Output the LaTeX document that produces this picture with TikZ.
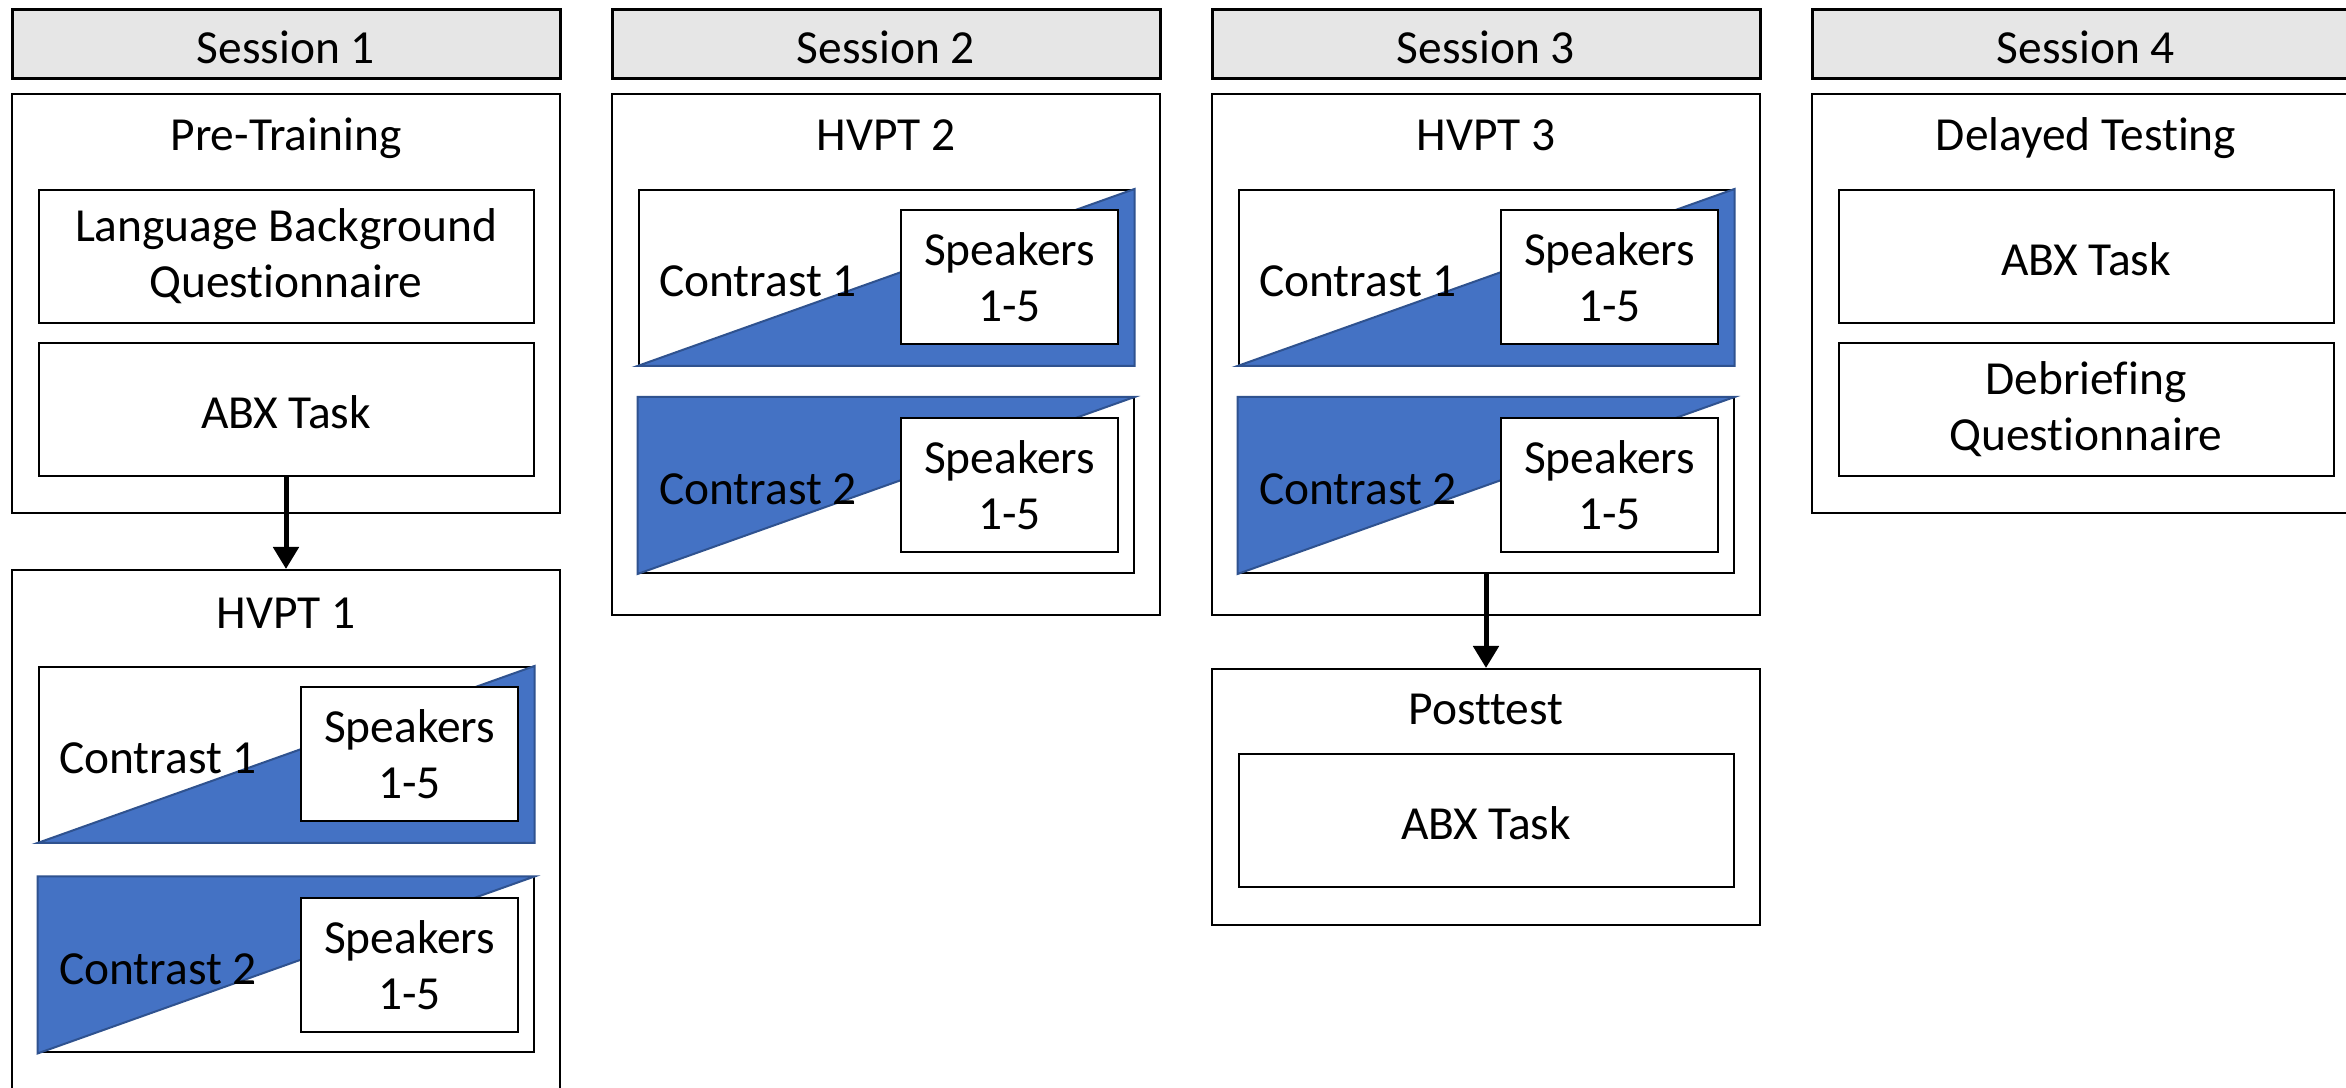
\documentclass[tikz,border=0pt]{standalone}
\usepackage{fontspec}
\setmainfont{Carlito}[Ligatures=NoCommon]
\usetikzlibrary{arrows.meta}
\definecolor{r68g114b196}{RGB}{68,114,196}
\definecolor{r47g82b143}{RGB}{47,82,143}
\definecolor{r230g230b230}{RGB}{230,230,230}
\begin{document}
\begin{tikzpicture}[
  oneline/.style={text height=11pt, text depth=0pt},
  sessionbox/.style={draw=black, line width=0.03cm, fill=r230g230b230, minimum width=5.48cm, minimum height=0.69cm, inner sep=0pt, oneline},
  phasebox/.style={draw=black, line width=0.02cm, fill=white, minimum width=5.48cm, inner sep=0pt},
  taskbox/.style={draw=black, line width=0.02cm, fill=white, minimum width=4.95cm, minimum height=1.33cm, inner sep=0pt, align=center},
  contrastbox/.style={draw=black, line width=0.02cm, minimum width=4.95cm, minimum height=1.75cm, inner sep=0pt},
  speakerbox/.style={draw=black, line width=0.02cm, fill=white, minimum width=2.17cm, minimum height=1.34cm, inner sep=0pt, align=center},
  wedge/.style={fill=r68g114b196, draw=r47g82b143, line width=0.02cm},
  flow/.style={line width=0.05cm, -{Triangle[width=0.25cm,length=0.22cm]}},
  font=\fontsize{13.5}{16}\selectfont
]
\clip (0,0) rectangle (23.46,10.88);

% Drawing session headers
\node [sessionbox] (s1) at (2.86,10.435) {Session 1};
\node [sessionbox] (s2) at (8.86,10.435) {Session 2};
\node [sessionbox] (s3) at (14.86,10.435) {Session 3};
\node [sessionbox] (s4) at (20.86,10.435) {Session 4};

% Drawing session 1: pre-training
\node [phasebox, minimum height=4.19cm] (pretrain) at (2.86,7.845) {};
\node [oneline] (pretraintitle) at (2.86,9.567) {Pre-Training};
\node [taskbox] (lbq) at (2.86,8.315) {Language Background\\Questionnaire};
\node [taskbox, oneline] (abx1) at (2.86,6.785) {ABX Task};

% Drawing session 1: HVPT 1
\node [phasebox, minimum height=5.21cm] (hvpt1) at (2.86,2.575) {};
\node [oneline] (hvpt1title) at (2.86,4.787) {HVPT 1};
\node [contrastbox] (c11) at (2.86,3.335) {};
\draw [wedge] (c11.south west) -- (c11.north east) -- (c11.south east) -- cycle;
\node [anchor=west, inner sep=0pt, oneline] (c11label) at ([xshift=0.21cm]c11.west) {Contrast 1};
\node [speakerbox] (sp11) at (4.095,3.335) {Speakers\\1-5};
\node [contrastbox] (c12) at (2.86,1.23) {};
\draw [wedge] (c12.south west) -- (c12.north west) -- (c12.north east) -- cycle;
\node [anchor=west, inner sep=0pt, oneline] (c12label) at ([xshift=0.21cm]c12.west) {Contrast 2};
\node [speakerbox] (sp12) at (4.095,1.23) {Speakers\\1-5};
\draw [flow] (abx1.south) -- (hvpt1.north);

% Drawing session 2: HVPT 2
\node [phasebox, minimum height=5.21cm] (hvpt2) at (8.86,7.335) {};
\node [oneline] (hvpt2title) at (8.86,9.567) {HVPT 2};
\node [contrastbox] (c21) at (8.86,8.105) {};
\draw [wedge] (c21.south west) -- (c21.north east) -- (c21.south east) -- cycle;
\node [anchor=west, inner sep=0pt, oneline] (c21label) at ([xshift=0.21cm]c21.west) {Contrast 1};
\node [speakerbox] (sp21) at (10.095,8.105) {Speakers\\1-5};
\node [contrastbox] (c22) at (8.86,6.025) {};
\draw [wedge] (c22.south west) -- (c22.north west) -- (c22.north east) -- cycle;
\node [anchor=west, inner sep=0pt, oneline] (c22label) at ([xshift=0.21cm]c22.west) {Contrast 2};
\node [speakerbox] (sp22) at (10.095,6.025) {Speakers\\1-5};

% Drawing session 3: HVPT 3 and posttest
\node [phasebox, minimum height=5.21cm] (hvpt3) at (14.86,7.335) {};
\node [oneline] (hvpt3title) at (14.86,9.567) {HVPT 3};
\node [contrastbox] (c31) at (14.86,8.105) {};
\draw [wedge] (c31.south west) -- (c31.north east) -- (c31.south east) -- cycle;
\node [anchor=west, inner sep=0pt, oneline] (c31label) at ([xshift=0.21cm]c31.west) {Contrast 1};
\node [speakerbox] (sp31) at (16.095,8.105) {Speakers\\1-5};
\node [contrastbox] (c32) at (14.86,6.025) {};
\draw [wedge] (c32.south west) -- (c32.north west) -- (c32.north east) -- cycle;
\node [anchor=west, inner sep=0pt, oneline] (c32label) at ([xshift=0.21cm]c32.west) {Contrast 2};
\node [speakerbox] (sp32) at (16.095,6.025) {Speakers\\1-5};
\node [phasebox, minimum height=2.56cm] (post) at (14.86,2.91) {};
\node [oneline] (posttitle) at (14.86,3.827) {Posttest};
\node [taskbox, oneline] (abx3) at (14.86,2.675) {ABX Task};
\draw [flow] (c32.south) -- (post.north);

% Drawing session 4: delayed testing
\node [phasebox, minimum height=4.19cm] (delay) at (20.86,7.845) {};
\node [oneline] (delaytitle) at (20.86,9.567) {Delayed Testing};
\node [taskbox, oneline] (abx4) at (20.86,8.315) {ABX Task};
\node [taskbox] (debrief) at (20.86,6.785) {Debriefing\\Questionnaire};
\end{tikzpicture}
\end{document}
